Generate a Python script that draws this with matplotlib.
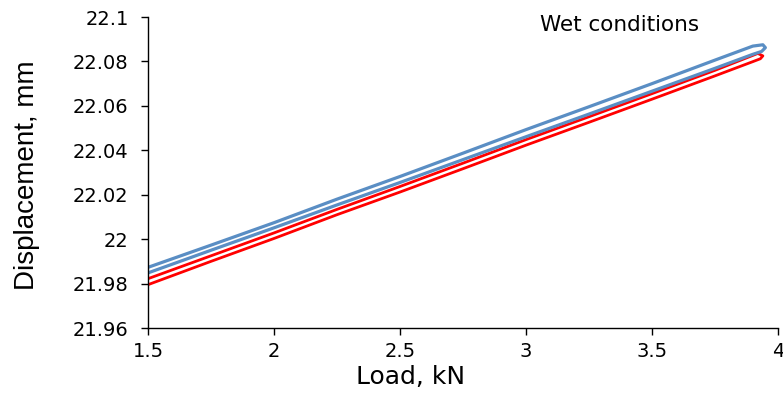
import matplotlib
matplotlib.use("Agg")
import matplotlib.pyplot as plt

# red loop: loading branch then unloading branch (load kN, displacement mm)
red_load = [1.5, 1.75, 2.0, 2.25, 2.5, 2.75, 3.0, 3.25, 3.5, 3.75, 3.9, 3.93, 3.94,
            3.92, 3.75, 3.5, 3.25, 3.0, 2.75, 2.5, 2.25, 2.0, 1.75, 1.5]
red_disp = [21.9795, 21.9900, 22.0003, 22.0110, 22.0212, 22.0317, 22.0423, 22.0526,
            22.0630, 22.0735, 22.0799, 22.0812, 22.0825,
            22.0836, 22.0760, 22.0655, 22.0551, 22.0448, 22.0342, 22.0237,
            22.0134, 22.0028, 21.9925, 21.9822]

# blue loop
blue_load = [1.5, 1.75, 2.0, 2.25, 2.5, 2.75, 3.0, 3.25, 3.5, 3.75, 3.9, 3.935, 3.95,
             3.94, 3.9, 3.75, 3.5, 3.25, 3.0, 2.75, 2.5, 2.25, 2.0, 1.75, 1.5]
blue_disp = [21.9848, 21.9950, 22.0051, 22.0154, 22.0255, 22.0358, 22.0461, 22.0563,
             22.0666, 22.0769, 22.0832, 22.0845, 22.0862,
             22.0875, 22.0869, 22.0806, 22.0700, 22.0596, 22.0493, 22.0387,
             22.0282, 22.0180, 22.0074, 21.9973, 21.9873]

x_ticks = [1.5, 2, 2.5, 3, 3.5, 4]
x_labels = ["1.5", "2", "2.5", "3", "3.5", "4"]
y_ticks = [21.96, 21.98, 22.0, 22.02, 22.04, 22.06, 22.08, 22.1]
y_labels = ["21.96", "21.98", "22", "22.02", "22.04", "22.06", "22.08", "22.1"]

fig = plt.figure(figsize=(7.83, 3.96), dpi=100)
ax = fig.add_axes([148 / 783, 1 - 328 / 396, 630 / 783, 311 / 396])

ax.plot(red_load, red_disp, color="#ff0000", lw=2.0, solid_capstyle="round",
        solid_joinstyle="round")
ax.plot(blue_load, blue_disp, color="#5a8ec4", lw=2.3, solid_capstyle="round",
        solid_joinstyle="round")

ax.set_xlim(1.5, 4)
ax.set_ylim(21.96, 22.1)
ax.set_xticks(x_ticks)
ax.set_xticklabels(x_labels, fontsize=14, family="DejaVu Sans")
ax.set_yticks(y_ticks)
ax.set_yticklabels(y_labels, fontsize=14, family="DejaVu Sans")
ax.tick_params(axis="y", direction="out", length=5, width=1, pad=9)
ax.tick_params(axis="x", direction="out", length=5, width=1, pad=5)

for s in ["top", "right"]:
    ax.spines[s].set_visible(False)
for s in ["left", "bottom"]:
    ax.spines[s].set_linewidth(1)
    ax.spines[s].set_color("black")

ax.set_xlabel("Load, kN", fontsize=18, family="DejaVu Sans")
ax.xaxis.set_label_coords(0.416, -0.12)
ax.set_ylabel("Displacement, mm", fontsize=20, family="Liberation Sans")
ax.yaxis.set_label_coords(-0.172, 0.49)

ax.text(3.37, 22.0965, "Wet conditions", fontsize=15.5, family="DejaVu Sans",
        ha="center", va="center")

fig.savefig("out.png", dpi=100)
